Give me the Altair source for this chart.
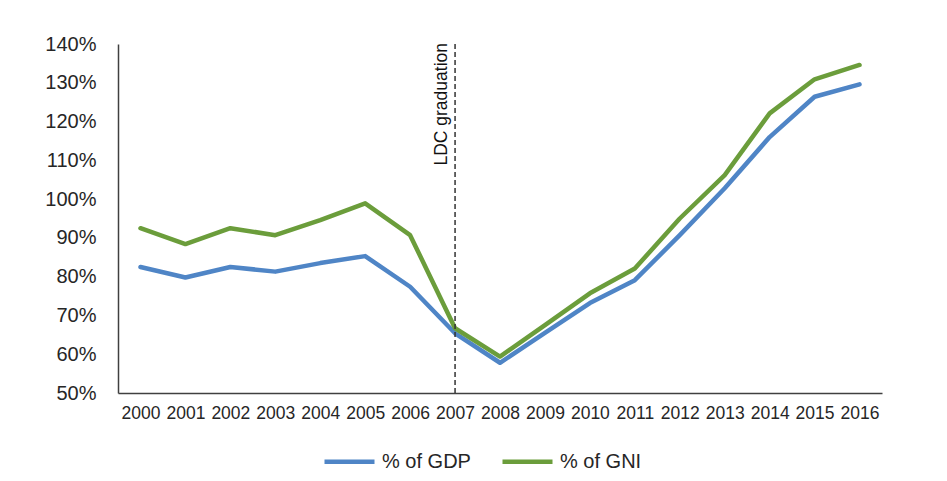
import altair as alt
import pandas as pd

years = ["2000", "2001", "2002", "2003", "2004", "2005", "2006", "2007", "2008",
         "2009", "2010", "2011", "2012", "2013", "2014", "2015", "2016"]
gdp = [82.5, 79.8, 82.5, 81.3, 83.5, 85.3, 77.4, 65.4, 57.8, 65.5, 73.2, 79.1,
       90.7, 102.8, 116.0, 126.4, 129.6]
gni = [92.5, 88.4, 92.5, 90.7, 94.6, 98.9, 90.7, 66.7, 59.4, 67.5, 75.7, 82.1,
       95.0, 106.2, 122.1, 130.9, 134.6]
series_names = ["% of GDP", "% of GNI"]
series_colors = ["#4f85c6", "#6b9d3b"]
event_year = ["2007"]
event_label = ["LDC graduation"]

rows = []
for i, y in enumerate(years):
    rows.append({"year": y, "series": series_names[0], "value": gdp[i] / 100})
    rows.append({"year": y, "series": series_names[1], "value": gni[i] / 100})
df = pd.DataFrame(rows)
ev = pd.DataFrame({"year": event_year, "label": event_label})

FONT = "Liberation Sans, Arial, sans-serif"

x_scale = alt.Scale(type="point", padding=0.5, domain=years)
x_axis = alt.Axis(title=None, labelAngle=0, ticks=False, labelPadding=11,
                  labelFontSize=17.5, labelFont=FONT, labelColor="#262626",
                  labelAlign="center", bandPosition=0,
                  domainColor="#404040", domainWidth=1.5, grid=False,
                  labelOverlap=False)
y_scale = alt.Scale(domain=[0.5, 1.4], nice=False, zero=False)

lines = alt.Chart(df).mark_line(strokeWidth=4.5, strokeCap="round", strokeJoin="round").encode(
    x=alt.X("year:O", sort=years, scale=x_scale, axis=x_axis),
    y=alt.Y("value:Q", scale=y_scale,
            axis=alt.Axis(title=None, format=".0%", values=[0.5, 0.6, 0.7, 0.8, 0.9, 1.0, 1.1, 1.2, 1.3, 1.4],
                          ticks=False, labelPadding=22, labelFontSize=20, labelFont=FONT,
                          labelColor="#262626", domainColor="#404040", domainWidth=1.5,
                          grid=False)),
    color=alt.Color("series:N", scale=alt.Scale(domain=series_names, range=series_colors),
                    legend=alt.Legend(title=None, orient="none", legendX=204, legendY=390,
                                      direction="horizontal", symbolType="stroke",
                                      symbolSize=2500, symbolStrokeWidth=4.5,
                                      labelFontSize=20, labelFont=FONT, labelColor="#262626",
                                      columnPadding=22, labelOffset=5)),
)

rule = alt.Chart(ev).mark_rule(color="#333333", strokeWidth=1.5, strokeDash=[5, 3]).encode(
    x=alt.X("year:O", sort=years, scale=x_scale, axis=x_axis),
    y=alt.value(0),
    y2=alt.value(349),
)

label = alt.Chart(ev).mark_text(angle=270, align="right", baseline="bottom", fontSize=17.5,
                                font=FONT, color="#111111", dx=-3, dy=-4).encode(
    x=alt.X("year:O", sort=years, scale=x_scale, axis=x_axis),
    y=alt.value(-4),
    text="label:N",
)

chart = alt.layer(lines, rule, label).properties(
    width=764, height=349,
    padding={"left": 110, "top": 36, "right": 49, "bottom": 80},
    autosize=alt.AutoSizeParams(type="none"),
    background="white",
).configure_view(stroke=None)

chart.save("out.html", embed_options={"renderer": "svg", "actions": False})
